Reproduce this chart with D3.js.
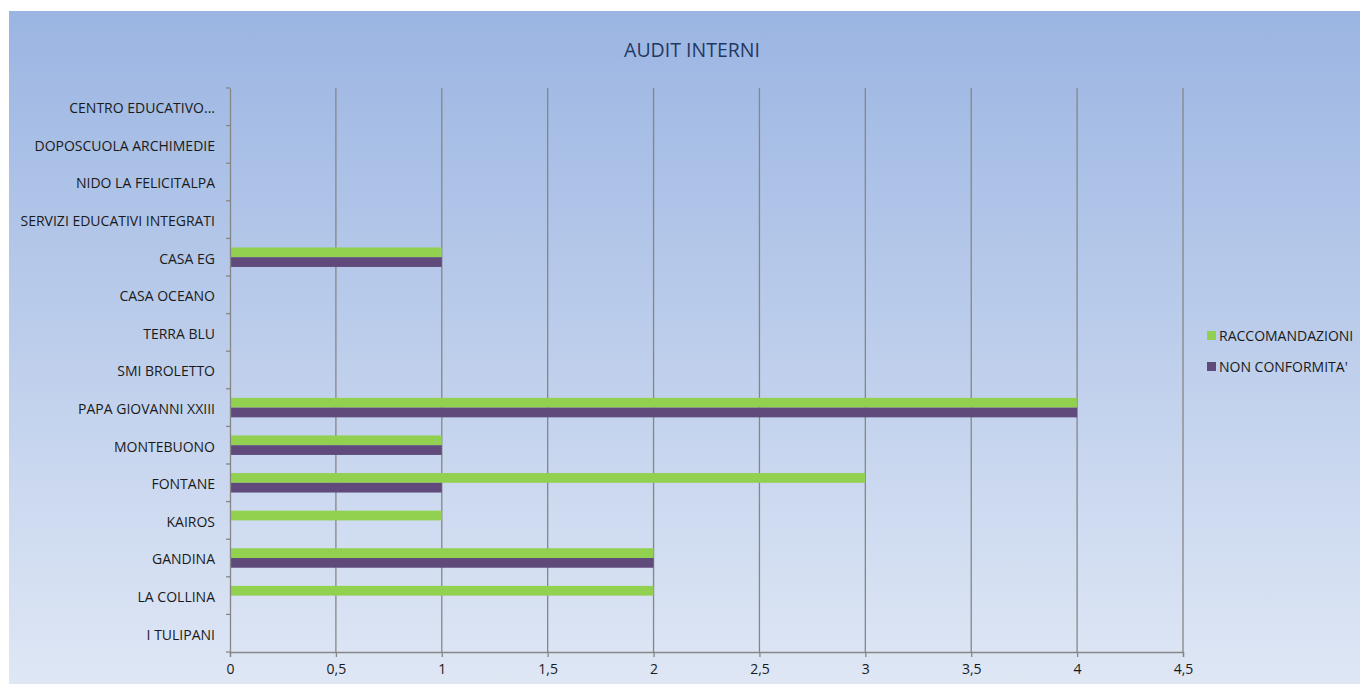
<!DOCTYPE html>
<html>
<head>
<meta charset="utf-8">
<script src="https://cdn.jsdelivr.net/npm/d3@7"></script>
<style>
  body { margin: 0; background: #fff; }
  text { font-family: "Open Sans", sans-serif; }
</style>
</head>
<body>
<svg id="chart" width="1360" height="684"></svg>
<script>
// categories from bottom to top, as in the chart
var categories = ["I TULIPANI", "LA COLLINA", "GANDINA", "KAIROS", "FONTANE", "MONTEBUONO",
  "PAPA GIOVANNI XXIII", "SMI BROLETTO", "TERRA BLU", "CASA OCEANO", "CASA EG",
  "SERVIZI EDUCATIVI INTEGRATI", "NIDO LA FELICITALPA", "DOPOSCUOLA ARCHIMEDIE", "CENTRO EDUCATIVO..."];
var raccomandazioni = [0, 2, 2, 1, 3, 1, 4, 0, 0, 0, 1, 0, 0, 0, 0];
var nonConformita  = [0, 0, 2, 0, 1, 1, 4, 0, 0, 0, 1, 0, 0, 0, 0];
var seriesNames = ["RACCOMANDAZIONI", "NON CONFORMITA'"];
var seriesColors = ["#92d050", "#604a7b"];
var xTicks = [0, 0.5, 1, 1.5, 2, 2.5, 3, 3.5, 4, 4.5];

var svg = d3.select("#chart");

// background gradient box
var defs = svg.append("defs");
var grad = defs.append("linearGradient").attr("id", "bg")
    .attr("x1", 0).attr("y1", 0).attr("x2", 0).attr("y2", 1);
grad.append("stop").attr("offset", "0%").attr("stop-color", "#9bb5e2");
grad.append("stop").attr("offset", "100%").attr("stop-color", "#dfe7f5");

svg.append("rect").attr("x", 9).attr("y", 11).attr("width", 1351).attr("height", 673)
    .attr("fill", "url(#bg)");

svg.append("text").attr("x", 692).attr("y", 57).attr("text-anchor", "middle")
    .attr("font-size", 19.5).attr("fill", "#1f3864").text("AUDIT INTERNI");

var plotLeft = 230, plotRight = 1183, plotTop = 88, plotBottom = 652;

var x = d3.scaleLinear().domain([0, 4.5]).range([plotLeft, plotRight]);
var y = d3.scaleBand().domain(categories).range([plotBottom, plotTop]);
var inner = d3.scaleBand().domain([0, 1]).range([0, y.bandwidth()]).paddingOuter(0.93);

// vertical gridlines
svg.append("g").selectAll("line").data(xTicks.slice(1)).enter().append("line")
    .attr("x1", function (d) { return x(d); }).attr("x2", function (d) { return x(d); })
    .attr("y1", plotTop).attr("y2", plotBottom)
    .attr("stroke", "#868686").attr("stroke-width", 1.3);

// bars
var series = [raccomandazioni, nonConformita];
series.forEach(function (vals, s) {
  svg.append("g").selectAll("rect").data(categories).enter().append("rect")
      .attr("x", x(0))
      .attr("y", function (d) { return y(d) + inner(s); })
      .attr("width", function (d, i) { return x(vals[i]) - x(0); })
      .attr("height", inner.bandwidth())
      .attr("fill", seriesColors[s]);
});

// y axis
var yAxis = svg.append("g").attr("transform", "translate(" + plotLeft + ",0)")
    .call(d3.axisLeft(y).tickSize(0).tickPadding(15));
yAxis.select(".domain").attr("stroke", "#868686").attr("stroke-width", 1.3);
yAxis.selectAll("text").attr("font-size", 14).attr("fill", "#1a1a1a").attr("dy", "0.45em")
    .style("font-family", "'Open Sans', sans-serif");
var bounds = d3.range(categories.length + 1).map(function (i) { return plotBottom - i * y.step(); });
svg.append("g").selectAll("line").data(bounds).enter().append("line")
    .attr("x1", plotLeft - 4).attr("x2", plotLeft)
    .attr("y1", function (d) { return d; }).attr("y2", function (d) { return d; })
    .attr("stroke", "#868686").attr("stroke-width", 1.3);

// x axis
var xAxis = svg.append("g").attr("transform", "translate(0," + plotBottom + ")")
    .call(d3.axisBottom(x).tickValues(xTicks).tickSize(5).tickPadding(7)
      .tickFormat(function (d) { return String(d).replace(".", ","); }));
xAxis.select(".domain").attr("stroke", "#868686").attr("stroke-width", 1.3);
xAxis.selectAll("line").attr("stroke", "#868686").attr("stroke-width", 1.3);
xAxis.selectAll("text").attr("font-size", 14).attr("fill", "#1a1a1a")
    .style("font-family", "'Open Sans', sans-serif");

// legend
var legend = svg.append("g").selectAll("g").data(seriesNames).enter().append("g")
    .attr("transform", function (d, i) { return "translate(1207," + (336 + i * 31) + ")"; });
legend.append("rect").attr("x", 0).attr("y", -5).attr("width", 9).attr("height", 9)
    .attr("fill", function (d, i) { return seriesColors[i]; });
legend.append("text").attr("x", 12).attr("y", 0).attr("dy", "0.35em")
    .attr("font-size", 14).attr("fill", "#1a1a1a").text(function (d) { return d; });
</script>
</body>
</html>
